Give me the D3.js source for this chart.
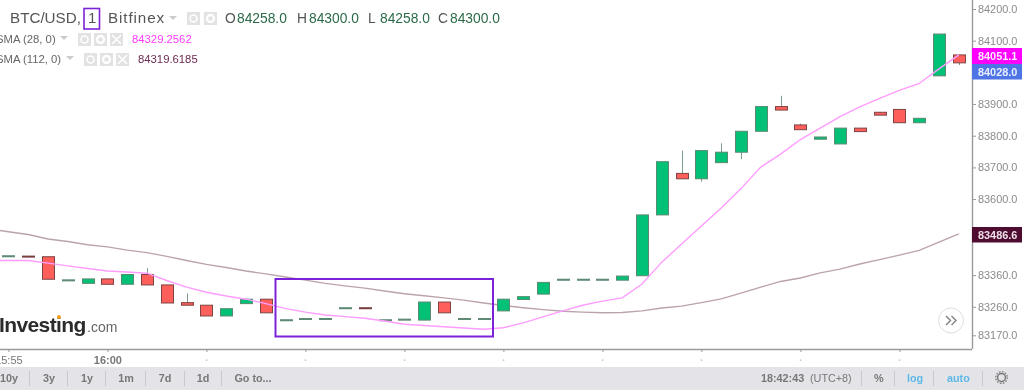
<!DOCTYPE html>
<html><head><meta charset="utf-8">
<script src="https://cdn.jsdelivr.net/npm/d3@7"></script>
<style>
html,body{margin:0;padding:0;background:#fff;overflow:hidden}
svg{display:block;filter:blur(0.35px)}
text{font-family:"Liberation Sans",Arial,sans-serif}
</style></head><body>
<svg id="c" width="1024" height="391"></svg>
<script>
const opens  = [83421,83420,83418,83345,83334,83348,83331,83362,83329,83273,83265,83231,83270,83284,83219,83223,83223,83257,83257,83219,83221,83218,83275,83223,83223,83247,83283,83300,83347,83347,83347,83344,83358,83550,83681,83664,83715,83748,83814,83892,83834,83789,83774,83824,83874,83883,83841,83989,84055];
const closes = [83421,83420,83347,83345,83348,83331,83362,83329,83272,83265,83231,83254,83284,83241,83219,83223,83223,83257,83257,83219,83221,83275,83241,83223,83223,83284,83292,83337,83347,83347,83347,83357,83550,83718,83664,83753,83748,83814,83892,83881,83819,83796,83824,83813,83865,83841,83855,84121,84030];
const highs  = [83421,83420,83418,83345,83348,83348,83362,83382,83329,83302,83265,83254,83284,83284,83219,83223,83223,83257,83257,83219,83221,83275,83275,83223,83223,83284,83292,83337,83347,83347,83347,83357,83550,83718,83753,83753,83776,83814,83892,83926,83838,83796,83824,83824,83874,83883,83855,84121,84055];
const lows   = [83421,83420,83347,83345,83334,83331,83331,83329,83272,83265,83231,83231,83270,83241,83219,83223,83223,83257,83257,83219,83221,83218,83241,83223,83223,83247,83283,83300,83347,83347,83347,83344,83358,83550,83664,83655,83715,83726,83814,83881,83819,83789,83774,83813,83865,83841,83841,83989,84023];
// the first entry of each average belongs to the candle just left of the visible area
const sma28  = [83406,83406,83406,83398,83389,83381,83373,83370,83366,83343,83322,83306,83294,83284,83270,83254,83243,83234,83229,83224,83215,83205,83201,83197,83193,83189,83194,83209,83228,83247,83265,83278,83288,83332,83401,83458,83515,83572,83633,83701,83742,83788,83824,83860,83891,83918,83943,83965,84011,84055];
const sma112 = [83506,83497,83488,83474,83466,83456,83449,83439,83431,83419,83406,83394,83384,83373,83364,83354,83344,83334,83326,83319,83310,83301,83295,83288,83281,83272,83264,83257,83251,83246,83243,83241,83242,83247,83256,83262,83273,83285,83303,83322,83340,83351,83367,83379,83395,83409,83423,83438,83464,83490];
const priceTicks = [84200,84100,83900,83800,83700,83600,83360,83260,83170];
const timeTicks = [0,5,10,15,20,25,30,35,40,45];
const timeLabels = {0:"15:55",5:"16:00"};
const ranges = ["10y","3y","1y","1m","7d","1d","Go to..."];
const rangeX = [9,49,87,126,165,203,253];
const rangeSeps = [29,67,105,145,184,221];
const ohlcLabels = ["O","H","L","C"];
const ohlcValues = ["84258.0","84300.0","84258.0","84300.0"];
const ohlcX = [225,297,368,438];

const svg = d3.select("#c");
const x = d3.scaleLinear().domain([0,48]).range([8.4,958.8]);
const y = d3.scaleLinear().domain([83170,84200]).range([335.3,9]);
const UP="#00c176", DN="#ff5f5a";
const idx = d3.range(49);

svg.append("defs").append("clipPath").attr("id","pl").append("rect").attr("width",972).attr("height",349);
const plot = svg.append("g").attr("clip-path","url(#pl)");

const line = s => d3.line().x((d,i)=>x(i-1)).y(d=>y(d))(s);
plot.append("path").attr("d",line(sma112)).attr("fill","none").attr("stroke","#bba3ad").attr("stroke-width",1.4);

plot.selectAll(".w").data(idx).join("line")
  .attr("x1",i=>Math.round(x(i))+.5).attr("x2",i=>Math.round(x(i))+.5)
  .attr("y1",i=>y(highs[i])).attr("y2",i=>y(lows[i]))
  .attr("stroke","#7c9c8c").attr("stroke-width",1);
plot.selectAll(".b").data(idx).join("rect")
  .attr("x",i=>Math.round(x(i))-5.5).attr("width",12)
  .attr("y",i=>y(Math.max(opens[i],closes[i])))
  .attr("height",i=>Math.max(1,Math.abs(y(opens[i])-y(closes[i]))))
  .attr("fill",i=>closes[i]>opens[i]?UP:closes[i]<opens[i]?DN:(i===1||i===18?"#7a3f3f":"#5f8a76"))
  .attr("stroke",i=>{
    if(closes[i]===opens[i]) return i===1||i===18?"#7a3f3f":"#5f8a76";
    return closes[i]>opens[i]?"#5a8a72":"#7d4444";})
  .attr("stroke-width",1);

plot.append("path").attr("d",line(sma28)).attr("fill","none").attr("stroke","#ff9cff").attr("stroke-width",1.4);

svg.append("rect").attr("x",275.5).attr("y",279).attr("width",217.5).attr("height",57.5)
  .attr("fill","none").attr("stroke","#7b22d8").attr("stroke-width",2);

const yAxis = d3.axisRight(y).tickValues(priceTicks).tickFormat(d3.format(".1f")).tickSize(4).tickPadding(2);
const gy = svg.append("g").attr("transform","translate(972,0)").call(yAxis);
gy.select(".domain").attr("d","M0.5,0V349").attr("stroke","#9a9a9a").attr("stroke-width",1.4);
gy.selectAll(".tick line").attr("stroke","#9a9a9a");
gy.selectAll(".tick text").attr("font-size",10.9).attr("fill","#8a8a8a").attr("font-family","Liberation Sans");

const xAxis = d3.axisBottom(x).tickValues(timeTicks).tickFormat(d=>timeLabels[d]||"·").tickSize(3).tickPadding(4);
const gx = svg.append("g").attr("transform","translate(0,349)").call(xAxis);
gx.select(".domain").attr("d","M0,0.5H972").attr("stroke","#9a9a9a").attr("stroke-width",1.4);
gx.selectAll(".tick line").attr("stroke","#9a9a9a");
gx.selectAll(".tick text").attr("font-size",11).attr("font-weight","bold").attr("fill",d=>timeLabels[d]?"#777":"#ccc").attr("font-family","Liberation Sans");
gx.selectAll(".tick").filter(d=>d===0).select("text").attr("font-weight","normal");

function tag(v,yy,h,fill,col){
  svg.append("rect").attr("x",972).attr("y",yy).attr("width",50).attr("height",h).attr("fill",fill);
  svg.append("text").attr("x",978).attr("y",yy+h/2+4).attr("font-size",10.9).attr("font-weight","600").attr("fill",col||"#fff").text(v);
}
tag("84051.1",48,16,"#ff00ff","#ffe8ff");
tag("84028.0",64,15.5,"#4f74e6","#e8eeff");
tag("83486.6",227,15.5,"#4d0c30","#eedfe6");

const T=(s,xx,yy,fs,fill,extra)=>{const t=svg.append("text").attr("x",xx).attr("y",yy).attr("font-size",fs).attr("fill",fill).text(s);if(extra)extra(t);return t;};
T("BTC/USD,",10,23,15.2,"#555");
T("1",88,23,15,"#555");
svg.append("rect").attr("x",84).attr("y",8.5).attr("width",15.5).attr("height",20.5).attr("fill","none").attr("stroke","#7b22d8").attr("stroke-width",1.6);
T("Bitfinex",108,23,15.2,"#555",t=>t.attr("letter-spacing","0.9"));
function tri(cx,cy){svg.append("path").attr("d",`M${cx-4},${cy-2}L${cx+4},${cy-2}L${cx},${cy+2}Z`).attr("fill","#ccc");}
function icon(xx,yy,s,kind){
  svg.append("rect").attr("x",xx).attr("y",yy).attr("width",s).attr("height",s).attr("fill","#e2e2e2");
  const cx=xx+s/2,cy=yy+s/2;
  if(kind==="eye"){svg.append("circle").attr("cx",cx).attr("cy",cy).attr("r",s*.27).attr("fill","none").attr("stroke","#fff").attr("stroke-width",1.6);}
  if(kind==="gear"){svg.append("circle").attr("cx",cx).attr("cy",cy).attr("r",s*.27).attr("fill","none").attr("stroke","#fff").attr("stroke-width",2.4);}
  if(kind==="x"){svg.append("path").attr("d",`M${xx+2},${yy+2}L${xx+s-2},${yy+s-2}M${xx+s-2},${yy+2}L${xx+2},${yy+s-2}`).attr("stroke","#fff").attr("stroke-width",1.6);}
}
tri(173,18);
icon(187,12,13,"eye");icon(204,12,13,"gear");
ohlcLabels.forEach((l,i)=>{
  T(l,ohlcX[i],23,13.8,"#555");
  T(ohlcValues[i],ohlcX[i]+12,23,13.8,"#2b6a48");
});
T("SMA (28, 0)",-4,43,11.3,"#666");
tri(64,38);
icon(78,33,13,"eye");icon(94,33,13,"gear");icon(110,33,13,"x");
T("84329.2562",132,43,11.3,"#ff3cff");
T("SMA (112, 0)",-4,63,11.3,"#666");
tri(70,58);
icon(84,53,13,"eye");icon(100,53,13,"gear");icon(116,53,13,"x");
T("84319.6185",138,63,11.3,"#6b2a52");

T("Investing",-1,332,21,"#2b2b2b",t=>t.attr("font-weight","bold").attr("letter-spacing","-0.6"));
T(".com",87,332,14,"#666");
svg.append("circle").attr("cx",59).attr("cy",317).attr("r",2).attr("fill","#f7a21b");

svg.append("circle").attr("cx",951).attr("cy",320.5).attr("r",12.5).attr("fill","#fff").attr("stroke","#ddd");
svg.append("path").attr("d","M946,316l4.5,4.5l-4.5,4.5M951.5,316l4.5,4.5l-4.5,4.5").attr("fill","none").attr("stroke","#888").attr("stroke-width",1.5);

svg.append("rect").attr("x",0).attr("y",367).attr("width",1024).attr("height",23).attr("fill","#e4e4e8");
ranges.forEach((r,i)=>{T(r,rangeX[i],382,10.8,"#777",t=>t.attr("text-anchor","middle").attr("font-weight","600"));});
const seps=[...rangeSeps,861,894,933,982];
svg.selectAll(".s").data(seps).join("line").attr("x1",d=>d+.5).attr("x2",d=>d+.5).attr("y1",371).attr("y2",386).attr("stroke","#c9c9cd");
T("18:42:43",761,382,10.8,"#777",t=>t.attr("font-weight","bold"));
T("(UTC+8)",810,382,10.8,"#777");
T("%",874,382,10.8,"#777",t=>t.attr("font-weight","bold"));
T("log",907,382,10.8,"#5cb8e6",t=>t.attr("font-weight","bold"));
T("auto",947,382,10.8,"#5cb8e6",t=>t.attr("font-weight","bold"));
svg.append("circle").attr("cx",1001.5).attr("cy",377.5).attr("r",4).attr("fill","none").attr("stroke","#777").attr("stroke-width",1.5);
svg.append("circle").attr("cx",1001.5).attr("cy",377.5).attr("r",5.8).attr("fill","none").attr("stroke","#777").attr("stroke-width",1.2).attr("stroke-dasharray","1.6 1.4");
</script></body></html>
